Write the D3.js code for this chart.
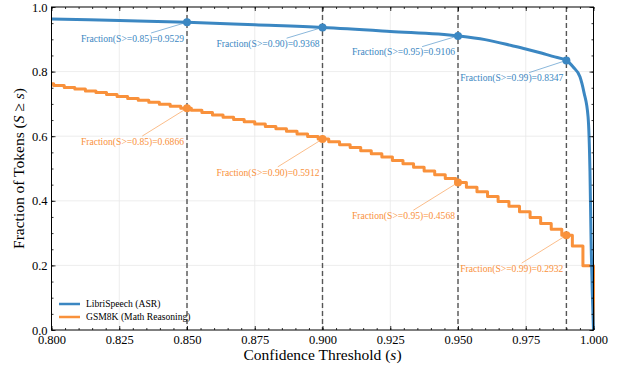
<!DOCTYPE html>
<html>
<head>
<meta charset="utf-8">
<script src="https://cdn.jsdelivr.net/npm/d3@7"></script>
<style>
  body { margin: 0; background: #fff; }
  text { font-family: "Liberation Serif", "Times New Roman", serif; }
</style>
</head>
<body>
<svg id="chart" width="617" height="369"></svg>
<script>
// thresholds that get a dashed line + annotation
const thresholds = [0.85, 0.90, 0.95, 0.99];
const libriAtThr = [0.9529, 0.9368, 0.9106, 0.8347];
const gsmAtThr = [0.6866, 0.5912, 0.4568, 0.2932];

// LibriSpeech curve (smooth)
const libriS = [0.80, 0.825, 0.85, 0.875, 0.90, 0.925, 0.95, 0.96, 0.97, 0.975, 0.98, 0.985,
  0.99, 0.9925, 0.995, 0.9965, 0.998, 0.9987, 0.9991, 1.0];
const libriFrac = [0.963, 0.958, 0.9529, 0.9450, 0.9368, 0.9245, 0.9106, 0.899, 0.880, 0.870, 0.859, 0.847,
  0.8347, 0.814, 0.784, 0.735, 0.66, 0.49, 0.28, 0.0];

// GSM8K curve (staircase, one level per step start)
const gsmS = [0.8000, 0.8008, 0.8047, 0.8086, 0.8125, 0.8164, 0.8203, 0.8242, 0.8281, 0.8320,
  0.8359, 0.8398, 0.8438, 0.8477, 0.8516, 0.8555, 0.8594, 0.8633, 0.8672, 0.8711,
  0.8750, 0.8789, 0.8828, 0.8867, 0.8906, 0.8945, 0.8984, 0.9023, 0.9063, 0.9102,
  0.9141, 0.9180, 0.9219, 0.9258, 0.9297, 0.9336, 0.9375, 0.9414, 0.9453, 0.9492,
  0.9531, 0.9570, 0.9609, 0.9648, 0.9688, 0.9727, 0.9766, 0.9805, 0.9844, 0.9883,
  0.9922, 0.9961, 1.0000];
const gsmFrac = [0.762, 0.757, 0.751, 0.746, 0.740, 0.735, 0.729, 0.723, 0.717, 0.711,
  0.705, 0.699, 0.693, 0.6866, 0.680, 0.673, 0.666, 0.659, 0.652, 0.645,
  0.638, 0.630, 0.623, 0.615, 0.607, 0.599, 0.5912, 0.5827, 0.5738, 0.5647,
  0.5553, 0.5455, 0.5355, 0.5251, 0.5145, 0.5036, 0.4923, 0.4808, 0.4689, 0.4568,
  0.442, 0.428, 0.413, 0.398, 0.383, 0.366, 0.348, 0.330, 0.312, 0.2932,
  0.260, 0.199, 0.0];

const xTicks = [0.800, 0.825, 0.850, 0.875, 0.900, 0.925, 0.950, 0.975, 1.000];
const yTicks = [0.0, 0.2, 0.4, 0.6, 0.8, 1.0];
const seriesNames = ["LibriSpeech (ASR)", "GSM8K (Math Reasoning)"];

const blue = "#3b87c2", orange = "#f9913b";

const svg = d3.select("#chart");
const pLeft = 51.5, pRight = 593.5, pTop = 7, pBottom = 330;

const x = d3.scaleLinear().domain([0.8, 1.0]).range([pLeft, pRight]);
const y = d3.scaleLinear().domain([0, 1]).range([pBottom, pTop]);

// grid
const grid = svg.append("g").attr("stroke", "#e8e8e8").attr("stroke-width", 0.8);
grid.selectAll("line.gx").data(xTicks.slice(1, -1)).enter().append("line")
  .attr("x1", d => x(d)).attr("x2", d => x(d)).attr("y1", pTop).attr("y2", pBottom);
grid.selectAll("line.gy").data(yTicks.slice(1, -1)).enter().append("line")
  .attr("x1", pLeft).attr("x2", pRight).attr("y1", d => y(d)).attr("y2", d => y(d));

// dashed threshold lines
svg.append("g").selectAll("line").data(thresholds).enter().append("line")
  .attr("x1", d => x(d)).attr("x2", d => x(d)).attr("y1", pTop).attr("y2", pBottom)
  .attr("stroke", "#555").attr("stroke-width", 1.4).attr("stroke-dasharray", "5,3");

// curves
const libriLine = d3.line().x((d, i) => x(libriS[i])).y(d => y(d)).curve(d3.curveMonotoneX);
const gsmLine = d3.line().x((d, i) => x(gsmS[i])).y(d => y(d)).curve(d3.curveStepAfter);

svg.append("path").attr("d", gsmLine(gsmFrac))
  .attr("fill", "none").attr("stroke", orange).attr("stroke-width", 3).attr("stroke-linejoin", "round");
svg.append("path").attr("d", libriLine(libriFrac))
  .attr("fill", "none").attr("stroke", blue).attr("stroke-width", 3).attr("stroke-linejoin", "round");

// annotations
function annotate(vals, color, offs) {
  const g = svg.append("g");
  thresholds.forEach(function (t, i) {
    const px = x(t), py = y(vals[i]);
    const txt = g.append("text")
      .attr("x", px - 3).attr("y", py + offs[i]).attr("dy", "0.35em")
      .attr("text-anchor", "end").attr("font-size", "9.6px").attr("fill", color)
      .text("Fraction(S>=" + t.toFixed(2) + ")=" + vals[i].toFixed(4));
    const bb = txt.node().getBBox();
    const cx = bb.x + bb.width / 2, cy = bb.y + bb.height / 2;
    const dx = px - cx, dy = py - cy;
    const tt = Math.min((bb.width / 2) / Math.abs(dx), (bb.height / 2 - 1) / Math.abs(dy));
    const len = Math.sqrt(dx * dx + dy * dy);
    const sx = cx + dx * tt + dx / len * 2, sy = cy + dy * tt + dy / len * 2;
    g.insert("line", "text").attr("x1", sx).attr("y1", sy).attr("x2", px).attr("y2", py)
      .attr("stroke", color).attr("stroke-width", 0.8).attr("stroke-opacity", 0.75);
    g.append("circle").attr("cx", px).attr("cy", py).attr("r", 4).attr("fill", color);
  });
}
annotate(libriAtThr, blue, [16, 16, 16, 17.5]);
annotate(gsmAtThr, orange, [33.5, 33.5, 33.5, 33.5]);

// axes with inward ticks
const xMinor = d3.range(0, 41).map(i => 0.8 + i * 0.005);
const yMinor = d3.range(0, 21).map(i => i * 0.05);

function styleAxis(g) {
  g.select(".domain").remove();
  g.selectAll(".tick line").attr("stroke", "#000").attr("stroke-width", 0.8);
  g.selectAll("text").attr("font-size", "12.5px").attr("fill", "#000")
    .attr("font-family", '"Liberation Serif", serif');
}

svg.append("g").attr("transform", "translate(0," + pBottom + ")")
  .call(d3.axisBottom(x).tickValues(xTicks).tickSize(-4).tickPadding(5).tickFormat(d3.format(".3f")))
  .call(styleAxis);
svg.append("g").attr("transform", "translate(0," + pBottom + ")")
  .call(d3.axisBottom(x).tickValues(xMinor).tickSize(-2).tickFormat("")).call(styleAxis);
svg.append("g").attr("transform", "translate(0," + pTop + ")")
  .call(d3.axisTop(x).tickValues(xTicks).tickSize(-4).tickFormat("")).call(styleAxis);
svg.append("g").attr("transform", "translate(0," + pTop + ")")
  .call(d3.axisTop(x).tickValues(xMinor).tickSize(-2).tickFormat("")).call(styleAxis);

svg.append("g").attr("transform", "translate(" + pLeft + ",0)")
  .call(d3.axisLeft(y).tickValues(yTicks).tickSize(-4).tickPadding(4).tickFormat(d3.format(".1f")))
  .call(styleAxis);
svg.append("g").attr("transform", "translate(" + pLeft + ",0)")
  .call(d3.axisLeft(y).tickValues(yMinor).tickSize(-2).tickFormat("")).call(styleAxis);
svg.append("g").attr("transform", "translate(" + pRight + ",0)")
  .call(d3.axisRight(y).tickValues(yTicks).tickSize(-4).tickFormat("")).call(styleAxis);
svg.append("g").attr("transform", "translate(" + pRight + ",0)")
  .call(d3.axisRight(y).tickValues(yMinor).tickSize(-2).tickFormat("")).call(styleAxis);

// frame
svg.append("rect").attr("x", pLeft).attr("y", pTop).attr("width", pRight - pLeft).attr("height", pBottom - pTop)
  .attr("fill", "none").attr("stroke", "#000").attr("stroke-width", 1);

// axis labels
const xl = svg.append("text").attr("x", (pLeft + pRight) / 2).attr("y", 360)
  .attr("text-anchor", "middle").attr("font-size", "15.5px");
xl.append("tspan").text("Confidence Threshold (");
xl.append("tspan").attr("font-style", "italic").text("s");
xl.append("tspan").text(")");

const yl = svg.append("text").attr("transform", "translate(24," + (pTop + pBottom) / 2 + ") rotate(-90)")
  .attr("text-anchor", "middle").attr("font-size", "15.5px");
yl.append("tspan").text("Fraction of Tokens (");
yl.append("tspan").attr("font-style", "italic").text("S");
yl.append("tspan").text(" \u2265 ");
yl.append("tspan").attr("font-style", "italic").text("s");
yl.append("tspan").text(")");

// legend
const legend = svg.append("g").selectAll("g").data(seriesNames).enter().append("g")
  .attr("transform", (d, i) => "translate(59," + (304 + i * 13) + ")");
legend.append("line").attr("x1", 0).attr("x2", 21).attr("y1", 0).attr("y2", 0)
  .attr("stroke", (d, i) => i === 0 ? blue : orange).attr("stroke-width", 2.5);
legend.append("text").attr("x", 27).attr("y", 0).attr("dy", "0.35em")
  .attr("font-size", "9.6px").text(d => d);
</script>
</body>
</html>
